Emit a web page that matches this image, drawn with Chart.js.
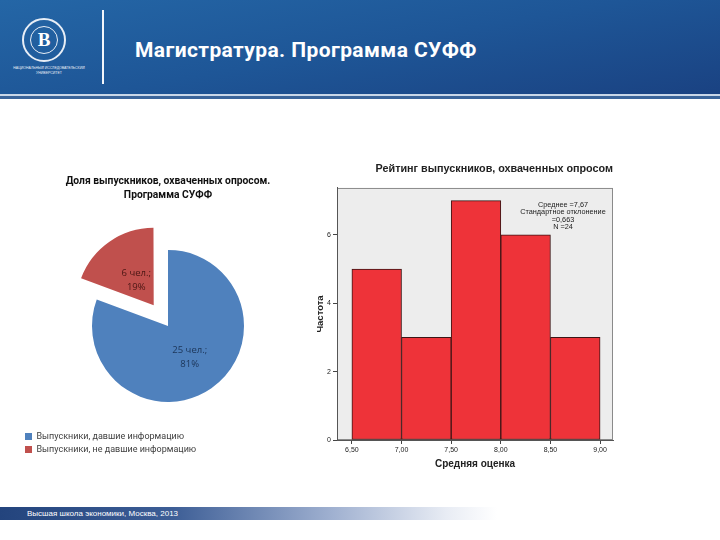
<!DOCTYPE html>
<html>
<head>
<meta charset="utf-8">
<script src="https://cdn.jsdelivr.net/npm/chart.js@4.4.0/dist/chart.umd.min.js"></script>
<style>
  body { margin: 0; width: 720px; height: 540px; position: relative; overflow: hidden; background: #fff; font-family: "Liberation Sans", Arial, sans-serif; }
  #header { position: absolute; left: 0; top: 0; width: 720px; height: 94px; background: linear-gradient(170deg, #2466a6 0%, #1e5697 50%, #1a4282 100%); }
  #header_line1 { position: absolute; left: 0; top: 94px; width: 720px; height: 2px; background: #c9d7e8; }
  #header_line2 { position: absolute; left: 0; top: 96px; width: 720px; height: 3px; background: #3a649a; }
  #logo { position: absolute; left: 22px; top: 18px; width: 40px; height: 40px; border: 2px solid #e8eef6; border-radius: 50%; }
  #logo_inner { position: absolute; left: 6px; top: 6px; width: 26px; height: 26px; border: 1px solid #e8eef6; border-radius: 50%; color: #fff; font: bold 19px "Liberation Serif", serif; text-align: center; line-height: 26px; }
  #logo_text { position: absolute; left: 10px; top: 66px; width: 78px; color: #e8eef6; font-size: 3.5px; line-height: 4.5px; text-align: center; }
  #vline { position: absolute; left: 102px; top: 10px; width: 2px; height: 74px; background: #f2f5fa; }
  #title { position: absolute; left: 135px; top: 38px; color: #fff; font: bold 21px Roboto, sans-serif; letter-spacing: 0.4px; white-space: nowrap; }
  #footer { position: absolute; left: 0; top: 507px; width: 720px; height: 13px; background: linear-gradient(to right, #23447d 0%, #3d5e96 24%, #9fb0d0 46%, #e8ecf4 62%, #ffffff 69%); }
  #footer_text { position: absolute; left: 27px; top: 509px; color: #fff; font-size: 8px; white-space: nowrap; }
  #pie_chart { position: absolute; left: 1px; top: 160px; }
  #hist_chart { position: absolute; left: 300px; top: 150px; }
</style>
</head>
<body>
<div id="header"></div>
<div id="header_line1"></div>
<div id="header_line2"></div>
<div id="logo"><div id="logo_inner">В</div></div>
<div id="logo_text">НАЦИОНАЛЬНЫЙ ИССЛЕДОВАТЕЛЬСКИЙ<br>УНИВЕРСИТЕТ</div>
<div id="vline"></div>
<div id="title">Магистратура. Программа СУФФ</div>
<div id="footer"></div>
<div id="footer_text">Высшая школа экономики, Москва, 2013</div>

<canvas id="pie_chart" width="334" height="304"></canvas>
<canvas id="hist_chart" width="330" height="330"></canvas>

<script>
// pie data
var pieLabels = ["Выпускники, давшие информацию", "Выпускники, не давшие информацию"];
var pieCounts = [25, 6];
var pieColors = ["#4f81bd", "#c0504d"];

// histogram data
var binEdges = [6.5, 7.0, 7.5, 8.0, 8.5, 9.0];
var binCounts = [5, 3, 7, 6, 3];
var xTickValues = [6.5, 7.0, 7.5, 8.0, 8.5, 9.0];
var yTickValues = [0, 2, 4, 6];
var statsLines = ["Среднее =7,67", "Стандартное отклонение", "=0,663", "N =24"];

// labels inside pie slices: "N чел.; P%"
var pieLabelPlugin = {
  id: "pieLabels",
  afterDatasetsDraw: function (chart) {
    var ctx = chart.ctx;
    var meta = chart.getDatasetMeta(0);
    var total = pieCounts.reduce(function (a, b) { return a + b; }, 0);
    var textColors = ["#1c3558", "#4a1614"];
    ctx.save();
    ctx.font = "9.5px 'Open Sans'";
    ctx.textAlign = "center";
    ctx.textBaseline = "middle";
    meta.data.forEach(function (arc, i) {
      var mid = (arc.startAngle + arc.endAngle) / 2;
      // arc is moved out by offset/4 when drawn
      var r = arc.outerRadius * 0.5 + (arc.options.offset || 0) / 4 * 0.7;
      var x = arc.x + Math.cos(mid) * r;
      var y = arc.y + Math.sin(mid) * r;
      ctx.fillStyle = textColors[i];
      ctx.fillText(pieCounts[i] + " чел.;", x, y - 7);
      ctx.fillText(Math.round(pieCounts[i] / total * 100) + "%", x, y + 7);
    });
    ctx.restore();
  }
};

var ctx = document.getElementById("pie_chart").getContext("2d");
var pieChart = new Chart(ctx, {
  type: "pie",
  data: {
    labels: pieLabels,
    datasets: [
      {
        data: pieCounts,
        backgroundColor: pieColors,
        borderWidth: 0,
        offset: [0, 100],
        radius: 76,
      },
    ],
  },
  options: {
    responsive: false,
    animation: false,
    layout: { padding: { left: 20, right: 20, top: 0, bottom: 0 } },
    plugins: {
      tooltip: { enabled: false },
      title: {
        display: true,
        text: ["Доля выпускников, охваченных опросом.", "Программа СУФФ"],
        color: "#111",
        font: { family: "Roboto", size: 10.3, weight: "bold", lineHeight: 1.3 },
        padding: { top: 15, bottom: 22 },
      },
      legend: {
        position: "bottom",
        align: "start",
        labels: {
          boxWidth: 7,
          boxHeight: 7,
          padding: 4,
          color: "#404040",
          font: { family: "Roboto", size: 9 },
        },
      },
    },
  },
  plugins: [pieLabelPlugin],
});

// gray plot area with border + statistics box
var plotAreaPlugin = {
  id: "plotArea",
  beforeDraw: function (chart) {
    var a = chart.chartArea;
    var c = chart.ctx;
    c.save();
    c.fillStyle = "#ededed";
    c.fillRect(a.left, a.top, a.right - a.left, a.bottom - a.top);
    c.strokeStyle = "#8a8a8a";
    c.lineWidth = 1;
    c.strokeRect(a.left + 0.5, a.top + 0.5, a.right - a.left - 1, a.bottom - a.top - 1);
    c.restore();
  },
  afterDraw: function (chart) {
    var a = chart.chartArea;
    var c = chart.ctx;
    c.save();
    c.font = "7.3px 'Liberation Sans'";
    c.fillStyle = "#222";
    c.textAlign = "center";
    c.textBaseline = "middle";
    statsLines.forEach(function (line, i) {
      c.fillText(line, a.right - 50, a.top + 17 + i * 7.4);
    });
    c.restore();
  }
};

var histData = binCounts.map(function (n, i) {
  return { x: (binEdges[i] + binEdges[i + 1]) / 2, y: n };
});

var ctx = document.getElementById("hist_chart").getContext("2d");
var histChart = new Chart(ctx, {
  type: "bar",
  data: {
    datasets: [
      {
        data: histData,
        backgroundColor: "#ee3339",
        borderColor: "#3c1515",
        borderWidth: 1,
        borderSkipped: false,
        barPercentage: 1,
        categoryPercentage: 1,
      },
    ],
  },
  options: {
    responsive: false,
    animation: false,
    layout: { padding: { left: 11, right: 17, top: 0, bottom: 6 } },
    plugins: {
      legend: { display: false },
      tooltip: { enabled: false },
      title: {
        display: true,
        align: "end",
        text: "Рейтинг выпускников, охваченных опросом",
        color: "#222",
        font: { family: "Liberation Sans", size: 10.8, weight: "bold", lineHeight: 1.2 },
        padding: { top: 13, bottom: 12 },
      },
    },
    scales: {
      x: {
        type: "linear",
        min: 6.35,
        max: 9.13,
        offset: false,
        afterBuildTicks: function (scale) {
          scale.ticks = xTickValues.map(function (v) { return { value: v }; });
        },
        afterFit: function (scale) { scale.height = 34; },
        ticks: {
          autoSkip: false,
          maxRotation: 0,
          padding: 2,
          color: "#222",
          font: { family: "Liberation Sans", size: 7 },
          callback: function (v) { return v.toFixed(2).replace(".", ","); },
        },
        grid: { display: true, offset: false, drawOnChartArea: false, tickLength: 4, color: "#444" },
        border: { color: "#555" },
        title: {
          display: true,
          text: "Средняя оценка",
          color: "#222",
          font: { family: "Liberation Sans", size: 10, weight: "bold", lineHeight: 1.2 },
          padding: 4,
        },
      },
      y: {
        min: 0,
        max: 7.37,
        afterBuildTicks: function (scale) {
          scale.ticks = yTickValues.map(function (v) { return { value: v }; });
        },
        afterFit: function (scale) { scale.width = 26; },
        ticks: {
          padding: 2,
          color: "#222",
          font: { family: "Liberation Sans", size: 7 },
        },
        grid: { display: true, drawOnChartArea: false, tickLength: 4, color: "#444" },
        border: { color: "#555" },
        title: {
          display: true,
          text: "Частота",
          color: "#222",
          font: { family: "Liberation Sans", size: 9.5, weight: "bold", lineHeight: 1.2 },
          padding: 4,
        },
      },
    },
  },
  plugins: [plotAreaPlugin],
});
</script>
</body>
</html>
